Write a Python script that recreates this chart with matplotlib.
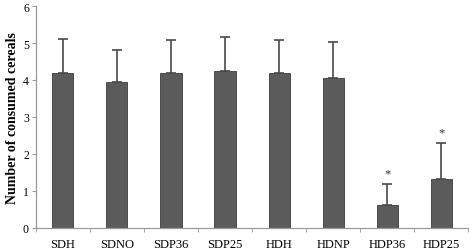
import numpy as np
import matplotlib.pyplot as plt

groups = ["SDH", "SDNO", "SDP36", "SDP25", "HDH", "HDNP", "HDP36", "HDP25"]
means = [4.2, 3.95, 4.2, 4.25, 4.2, 4.05, 0.63, 1.33]
errors = [0.9, 0.87, 0.88, 0.9, 0.88, 0.98, 0.57, 0.97]
significant = [False, False, False, False, False, False, True, True]

plt.rcParams["font.family"] = ["Liberation Serif", "DejaVu Serif"]

fig = plt.figure(figsize=(4.72, 2.51), dpi=100)
ax = fig.add_axes([0.076, 0.088, 0.916, 0.884])

x = np.arange(len(groups))
ax.bar(x, means, width=0.39, color="#5b5b5b", edgecolor="#3c3c3c", linewidth=0.6,
       yerr=[np.zeros(len(errors)), errors], capsize=3.5,
       error_kw={"ecolor": "#4a4a4a", "elinewidth": 1.2, "capthick": 1.2})

for xi, m, e, s in zip(x, means, errors, significant):
    if s:
        ax.text(xi, m + e + 0.12, "*", ha="center", va="bottom", fontsize=9, color="#333333")

ax.set_xlim(-0.5, len(groups) - 0.5)
ax.set_ylim(0, 6)
ax.set_yticks(range(0, 7))
ax.set_xticks(x)
ax.set_xticklabels(groups, fontsize=9)
ax.set_xticks(np.arange(-0.5, len(groups)), minor=True)
ax.tick_params(axis="x", which="major", length=0, pad=7)
ax.tick_params(axis="x", which="minor", length=3, color="#999999", direction="out")
ax.tick_params(axis="y", length=3, color="#999999", labelsize=8.5, pad=2)
ax.set_ylabel("Number of consumed cereals", fontsize=10, fontweight="bold", labelpad=3)

for side in ["top", "right"]:
    ax.spines[side].set_visible(False)
for side in ["left", "bottom"]:
    ax.spines[side].set_color("#999999")
    ax.spines[side].set_linewidth(0.9)

fig.savefig("out.png", dpi=100)
